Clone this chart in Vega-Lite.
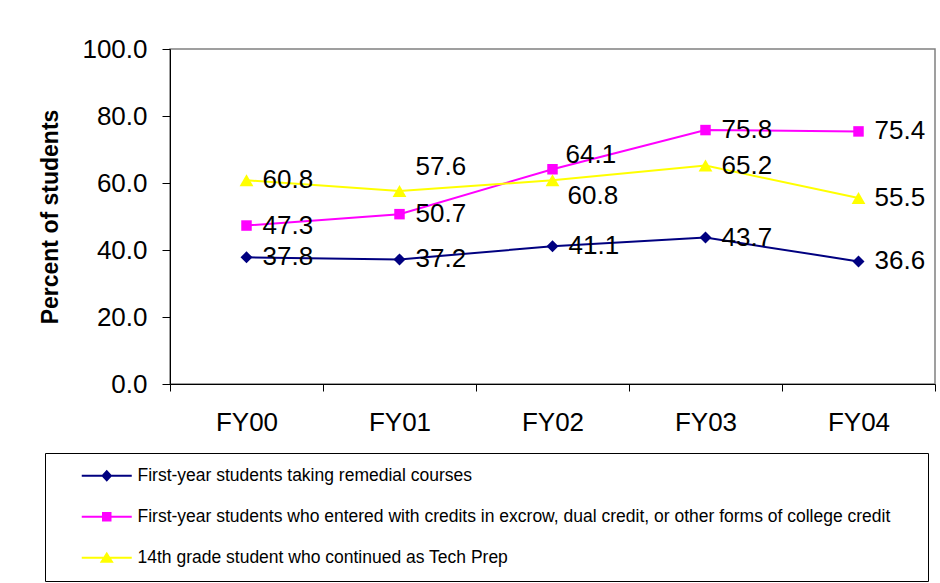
{
  "$schema": "https://vega.github.io/schema/vega-lite/v6.json",
  "width": 765,
  "height": 335,
  "autosize": {"type": "none"},
  "padding": {"left": 170, "top": 49, "right": 5, "bottom": 199},
  "background": "white",
  "config": {
    "font": "Liberation Sans",
    "view": {"stroke": "#808080", "strokeWidth": 1.5}
  },
  "data": {
    "values": [
      {"year": "FY00", "series": "First-year students taking remedial courses", "value": 37.8},
      {"year": "FY01", "series": "First-year students taking remedial courses", "value": 37.2},
      {"year": "FY02", "series": "First-year students taking remedial courses", "value": 41.1},
      {"year": "FY03", "series": "First-year students taking remedial courses", "value": 43.7},
      {"year": "FY04", "series": "First-year students taking remedial courses", "value": 36.6},
      {"year": "FY00", "series": "First-year students who entered with credits in excrow, dual credit, or other forms of college credit", "value": 47.3},
      {"year": "FY01", "series": "First-year students who entered with credits in excrow, dual credit, or other forms of college credit", "value": 50.7},
      {"year": "FY02", "series": "First-year students who entered with credits in excrow, dual credit, or other forms of college credit", "value": 64.1},
      {"year": "FY03", "series": "First-year students who entered with credits in excrow, dual credit, or other forms of college credit", "value": 75.8},
      {"year": "FY04", "series": "First-year students who entered with credits in excrow, dual credit, or other forms of college credit", "value": 75.4},
      {"year": "FY00", "series": "14th grade student who continued as Tech Prep", "value": 60.8},
      {"year": "FY01", "series": "14th grade student who continued as Tech Prep", "value": 57.6},
      {"year": "FY02", "series": "14th grade student who continued as Tech Prep", "value": 60.8},
      {"year": "FY03", "series": "14th grade student who continued as Tech Prep", "value": 65.2},
      {"year": "FY04", "series": "14th grade student who continued as Tech Prep", "value": 55.5}
    ]
  },
  "encoding": {
    "x": {
      "field": "year",
      "type": "ordinal",
      "scale": {"type": "band", "paddingInner": 0, "paddingOuter": 0},
      "axis": {
        "title": null,
        "labelAngle": 0,
        "labelFontSize": 26,
        "labelColor": "black",
        "labelPadding": 18,
        "tickBand": "extent",
        "tickSize": 7,
        "tickColor": "black",
        "domainColor": "black",
        "grid": false
      }
    },
    "y": {
      "field": "value",
      "type": "quantitative",
      "scale": {"domain": [0, 100], "nice": false},
      "axis": {
        "title": "Percent of students",
        "titleFontSize": 23,
        "titleFontWeight": "bold",
        "titleColor": "black",
        "titlePadding": 19,
        "labelFontSize": 26,
        "labelColor": "black",
        "labelPadding": 15,
        "format": ".1f",
        "values": [0, 20, 40, 60, 80, 100],
        "tickSize": 8,
        "tickColor": "black",
        "domainColor": "black",
        "grid": false
      }
    }
  },
  "layer": [
    {
      "mark": {"type": "line", "strokeWidth": 2},
      "encoding": {
        "color": {
          "field": "series",
          "type": "nominal",
          "scale": {
            "domain": [
              "First-year students taking remedial courses",
              "First-year students who entered with credits in excrow, dual credit, or other forms of college credit",
              "14th grade student who continued as Tech Prep"
            ],
            "range": ["#000080", "#FF00FF", "#FFFF00"]
          },
          "legend": {
            "orient": "none",
            "legendX": -125,
            "legendY": 404,
            "title": " ",
            "titleOrient": "right",
            "titlePadding": 24,
            "padding": 14,
            "strokeColor": "#000000",
            "fillColor": "white",
            "labelFont": "Liberation Sans",
            "labelFontSize": 17.5,
            "labelColor": "black",
            "labelLimit": 0,
            "rowPadding": 22,
            "symbolSize": 100,
            "symbolStrokeWidth": 0,
            "symbolOffset": 39,
            "labelOffset": 22,
            "encode": {
              "symbols": {
                "update": {
                  "shape": {"signal": "indexof(datum.value, 'remedial') >= 0 ? 'M-5,-0.2H5V0.2H-5Z M0,-1.2L1.1,0L0,1.2L-1.1,0Z' : (indexof(datum.value, 'excrow') >= 0 ? 'M-5,-0.2H5V0.2H-5Z M-0.95,-0.95H0.95V0.95H-0.95Z' : 'M-5,-0.2H5V0.2H-5Z M0,-1.2L1.4,1H-1.4Z')"},
                  "fill": {"signal": "scale('color', datum.value)"},
                  "fillOpacity": {"value": 1},
                  "opacity": {"value": 1}
                }
              }
            }
          }
        }
      }
    },
    {
      "transform": [{"filter": "indexof(datum.series, 'remedial') >= 0"}],
      "mark": {"type": "point", "shape": "diamond", "filled": true, "opacity": 1, "color": "#000080", "size": 144}
    },
    {
      "transform": [{"filter": "indexof(datum.series, 'excrow') >= 0"}],
      "mark": {"type": "point", "shape": "square", "filled": true, "opacity": 1, "color": "#FF00FF", "size": 110}
    },
    {
      "transform": [{"filter": "indexof(datum.series, 'Tech') >= 0"}],
      "mark": {"type": "point", "shape": "triangle-up", "filled": true, "opacity": 1, "color": "#FFFF00", "size": 190}
    },
    {
      "transform": [{"filter": "!((indexof(datum.series, 'Tech') >= 0 && (datum.year === 'FY01' || datum.year === 'FY02')) || (indexof(datum.series, 'excrow') >= 0 && datum.year === 'FY02'))"}],
      "mark": {"type": "text", "align": "left", "baseline": "middle", "dx": 16, "fontSize": 26, "color": "black"},
      "encoding": {"text": {"field": "value", "type": "quantitative", "format": ".1f"}}
    },
    {
      "transform": [{"filter": "indexof(datum.series, 'Tech') >= 0 && datum.year === 'FY01'"}],
      "mark": {"type": "text", "align": "left", "baseline": "middle", "dx": 16, "dy": -24, "fontSize": 26, "color": "black"},
      "encoding": {"text": {"field": "value", "type": "quantitative", "format": ".1f"}}
    },
    {
      "transform": [{"filter": "indexof(datum.series, 'excrow') >= 0 && datum.year === 'FY02'"}],
      "mark": {"type": "text", "align": "left", "baseline": "middle", "dx": 13, "dy": -14, "fontSize": 26, "color": "black"},
      "encoding": {"text": {"field": "value", "type": "quantitative", "format": ".1f"}}
    },
    {
      "transform": [{"filter": "indexof(datum.series, 'Tech') >= 0 && datum.year === 'FY02'"}],
      "mark": {"type": "text", "align": "left", "baseline": "middle", "dx": 15, "dy": 16, "fontSize": 26, "color": "black"},
      "encoding": {"text": {"field": "value", "type": "quantitative", "format": ".1f"}}
    }
  ]
}
